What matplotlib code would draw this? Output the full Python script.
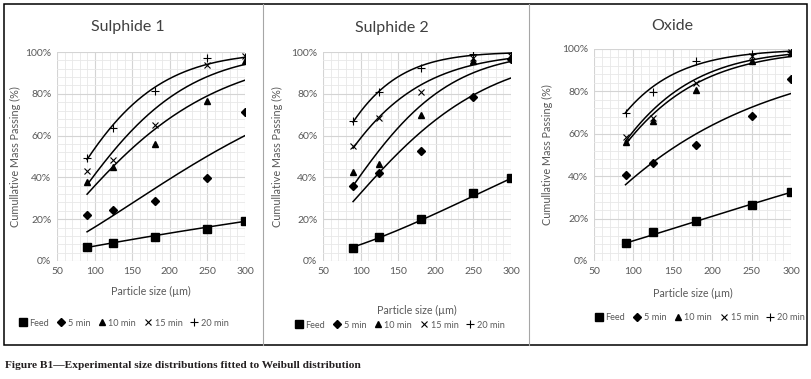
import numpy as np
import matplotlib
matplotlib.use('Agg')
import matplotlib.pyplot as plt
from matplotlib.lines import Line2D
from matplotlib.patches import Rectangle

# sieve sizes (um)
sizes = [90, 125, 180, 250, 300]
series_names = ['Feed', '5 min', '10 min', '15 min', '20 min']

# measured cumulative passing (%)
sulphide1 = {
    'Feed': [6.5, 8.8, 11.6, 15.3, 19.3],
    '5 min': [21.8, 24.5, 28.5, 39.8, 71.5],
    '10 min': [37.8, 45.2, 56.2, 76.5, 95.5],
    '15 min': [43.2, 48.5, 65.0, 94.0, 98.0],
    '20 min': [49.5, 63.5, 81.5, 97.0, 97.5],
}
sulphide2 = {
    'Feed': [6.0, 11.5, 20.3, 32.4, 39.8],
    '5 min': [36.0, 42.0, 52.5, 78.5, 96.5],
    '10 min': [42.5, 46.5, 70.0, 95.5, 97.5],
    '15 min': [55.0, 68.5, 81.0, 97.0, 98.0],
    '20 min': [67.0, 81.0, 92.5, 99.0, 99.5],
}
oxide = {
    'Feed': [8.5, 13.5, 19.0, 26.5, 32.5],
    '5 min': [40.5, 46.0, 54.5, 68.5, 86.0],
    '10 min': [56.0, 66.0, 80.5, 94.5, 98.0],
    '15 min': [58.5, 67.5, 84.0, 96.5, 98.5],
    '20 min': [70.0, 79.5, 94.5, 97.5, 98.5],
}

# fitted Weibull parameters (scale um, shape) per series: Feed, 5, 10, 15, 20 min
weibull_scale = {
    'Sulphide 1': [1548, 318, 180.6, 151.5, 120.0],
    'Sulphide 2': [455, 185, 148.6, 110.2, 84.1],
    'Oxide': [639, 195.5, 108.7, 104.4, 76.2],
}
weibull_shape = {
    'Sulphide 1': [0.95, 1.50, 1.37, 1.52, 1.42],
    'Sulphide 2': [1.65, 1.52, 1.61, 1.25, 1.31],
    'Oxide': [1.24, 1.04, 1.19, 1.24, 1.11],
}

panels = [('Sulphide 1', sulphide1), ('Sulphide 2', sulphide2), ('Oxide', oxide)]

W, H = 812, 379
fig = plt.figure(figsize=(W / 100, H / 100), dpi=100)
plt.rcParams['font.family'] = ['Lato', 'DejaVu Sans']


def fx(px):
    return px / W


def fy(py):
    return 1 - py / H


# plot areas in pixels: left, right, top, bottom
boxes = [(57, 245, 52, 261), (323, 511, 52, 261), (594, 791, 49, 261)]
title_pos = [(128, 27), (392, 28), (672, 26)]
xlab_y = [291, 310, 293]
ylab_x = [15, 277, 547]
legend_pos = [(124, 323), (400, 325), (700, 318)]

markers = {
    'Feed': dict(marker='s', ms=5.8),
    '5 min': dict(marker='D', ms=4.0),
    '10 min': dict(marker='^', ms=5.0),
    '15 min': dict(marker='x', ms=5.0, mew=0.8),
    '20 min': dict(marker='+', ms=6.0, mew=0.8),
}

grey = '#595959'
xs = np.linspace(90, 300, 200)

for i, (name, data) in enumerate(panels):
    l, r, t, b = boxes[i]
    ax = fig.add_axes([fx(l), fy(b), fx(r - l), (b - t) / H])
    ax.set_xlim(50, 300)
    ax.set_ylim(0, 100)
    ax.set_xticks(range(50, 301, 50))
    ax.set_xticks(range(50, 301, 10), minor=True)
    ax.set_yticks(range(0, 101, 20))
    ax.set_yticks(range(0, 101, 4), minor=True)
    ax.set_yticklabels([f'{v}%' for v in range(0, 101, 20)])
    ax.grid(which='major', color='#d4d4d4', lw=0.8)
    ax.grid(which='minor', color='#e8e8e8', lw=0.6)
    ax.set_axisbelow(True)
    for s in ax.spines.values():
        s.set_visible(False)
    ax.tick_params(which='both', length=0, labelsize=7.5, labelcolor=grey, pad=4)

    for j, sname in enumerate(series_names):
        lam = weibull_scale[name][j]
        k = weibull_shape[name][j]
        fit = 100 * (1 - np.exp(-(xs / lam) ** k))
        ax.plot(xs, fit, color='black', lw=1.1, zorder=2)
        ax.plot(sizes, data[sname], ls='none', color='black', zorder=3,
                **markers[sname])

    fig.text(fx(title_pos[i][0]), fy(title_pos[i][1]), name,
             ha='center', va='center', fontsize=11.5, color='#404040')
    fig.text(fx((l + r) / 2), fy(xlab_y[i]), 'Particle size (\u00b5m)',
             ha='center', va='center', fontsize=7.7, color=grey)
    fig.text(fx(ylab_x[i]), fy((t + b) / 2), 'Cumullative Mass Passing (%)',
             ha='center', va='center', rotation=90, fontsize=7.8, color=grey)

    handles = [Line2D([], [], ls='none', color='black', **markers[s]) for s in series_names]
    ax.legend(handles, series_names, loc='center',
              bbox_to_anchor=(fx(legend_pos[i][0]), fy(legend_pos[i][1])),
              bbox_transform=fig.transFigure, ncol=5, frameon=False,
              fontsize=6.6, labelcolor=grey, handlelength=0.8,
              handletextpad=0.3, columnspacing=0.9, borderpad=0)

# outer frame and dividers
fig.add_artist(Rectangle((fx(4), fy(345)), fx(803), (345 - 4) / H, fill=False,
                         ec='black', lw=1.1, transform=fig.transFigure))
for xd in (263, 529):
    fig.add_artist(Line2D([fx(xd), fx(xd)], [fy(345), fy(4)], color='#a6a6a6',
                          lw=0.8, transform=fig.transFigure))

fig.text(fx(5), fy(365), 'Figure B1\u2014Experimental size distributions fitted to Weibull distribution',
         family=['Liberation Serif', 'DejaVu Serif'], weight='bold', fontsize=8.2,
         color='#231f20', ha='left', va='center')

fig.savefig('out.png', dpi=100)
